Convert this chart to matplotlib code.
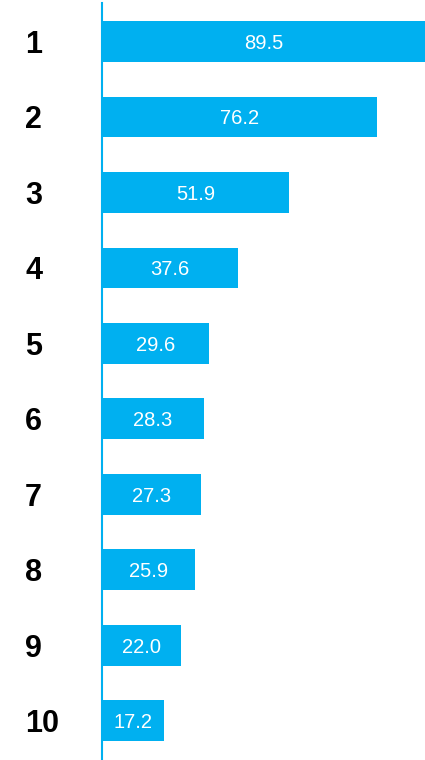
import matplotlib.pyplot as plt
from matplotlib.transforms import blended_transform_factory

plt.rcParams['font.family'] = ['Liberation Sans', 'DejaVu Sans']

ranks = ['1', '2', '3', '4', '5', '6', '7', '8', '9', '10']
values = [89.5, 76.2, 51.9, 37.6, 29.6, 28.3, 27.3, 25.9, 22.0, 17.2]

blue = '#00B0F0'

fig = plt.figure(figsize=(4.25, 7.6), dpi=100)
ax = fig.add_axes([102 / 425, 0, 323 / 425, 757 / 760])

pos = list(range(len(values)))
ax.barh(pos, values, height=0.54, color=blue)
ax.set_xlim(0, 89.5)
ax.set_ylim(9.52, -0.51)

for p, v in zip(pos, values):
    ax.text(v / 2, p, f"{v:.1f}", ha='center', va='center_baseline',
            color='white', fontsize=14.5)

# rank labels: x in figure coords, y in data coords
trans = blended_transform_factory(fig.transFigure, ax.transData)
for p, r in zip(pos, ranks):
    ax.text(25 / 425, p, r, transform=trans, fontsize=22,
            fontweight='bold', ha='left', va='center_baseline', clip_on=False)

ax.set_xticks([])
ax.set_yticks([])
for s in ['top', 'right', 'bottom']:
    ax.spines[s].set_visible(False)
ax.spines['left'].set_color(blue)
ax.spines['left'].set_linewidth(1.5)

fig.savefig('out.png', dpi=100)
